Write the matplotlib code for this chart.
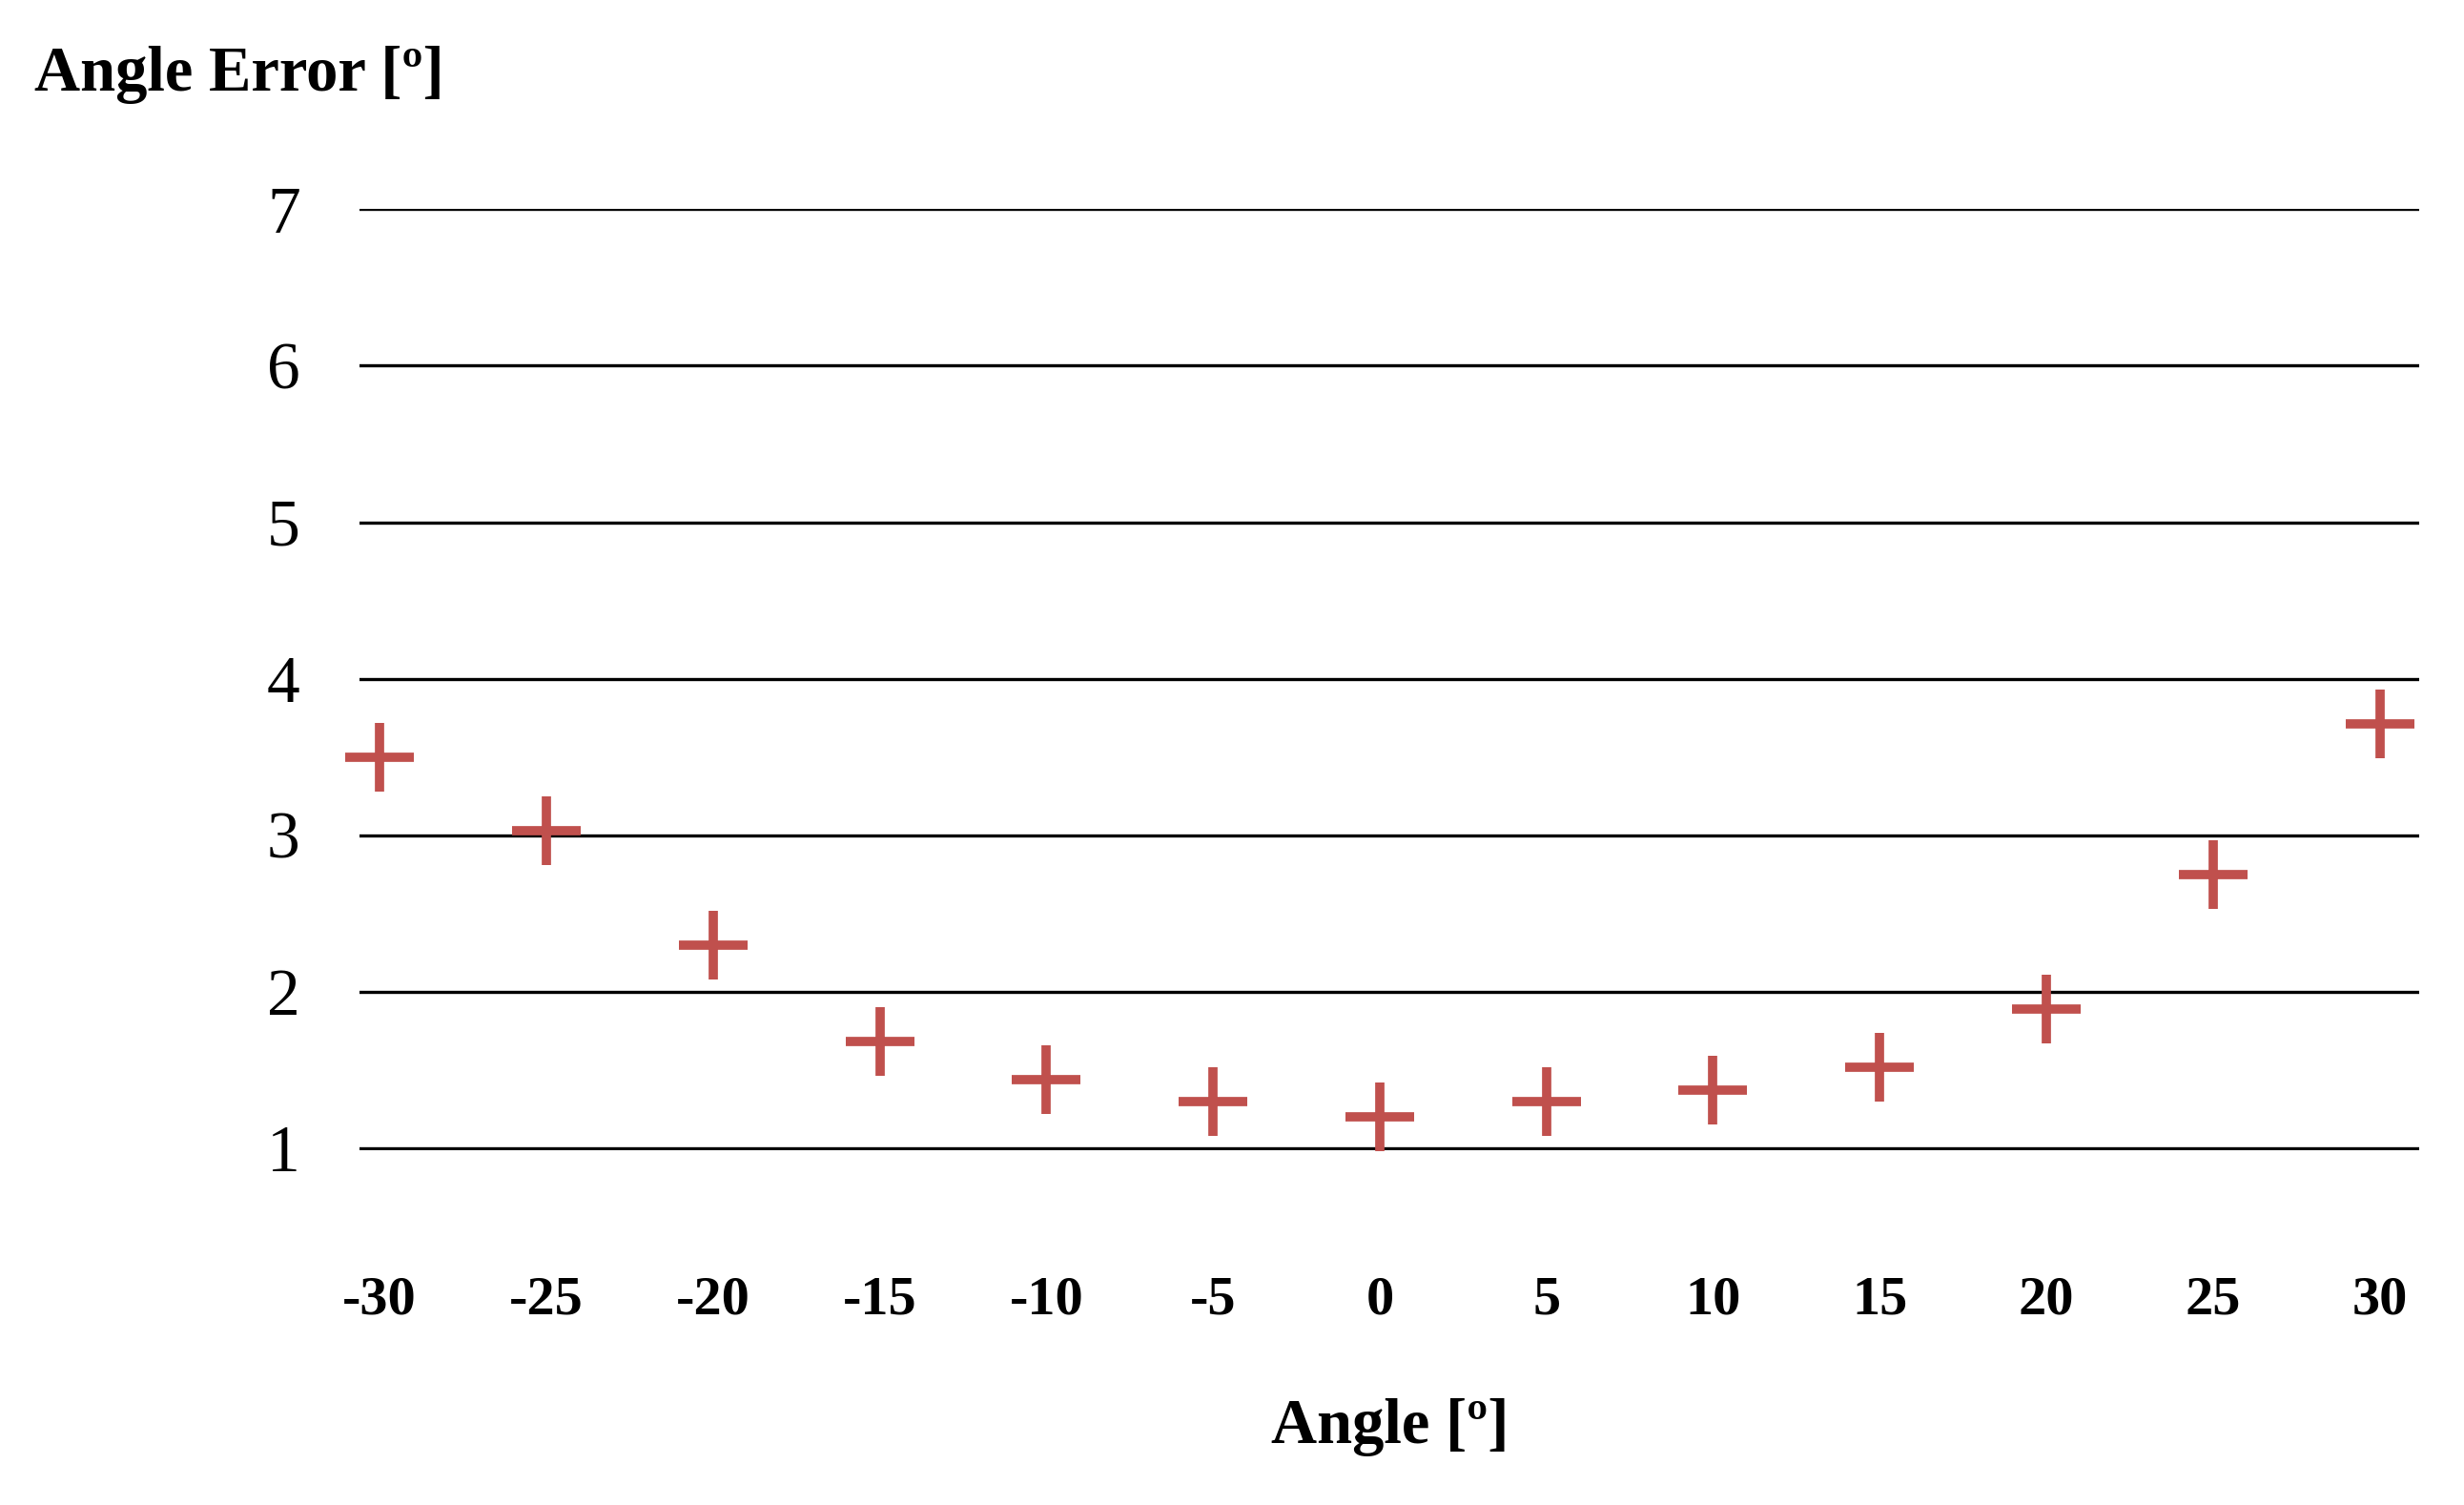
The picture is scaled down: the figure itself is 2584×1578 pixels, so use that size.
import matplotlib
matplotlib.use("Agg")
import matplotlib.pyplot as plt

angles = [-30, -25, -20, -15, -10, -5, 0, 5, 10, 15, 20, 25, 30]
errors = [3.5, 3.03, 2.3, 1.68, 1.44, 1.3, 1.2, 1.3, 1.37, 1.52, 1.89, 2.75, 3.71]
yticks = [1, 2, 3, 4, 5, 6, 7]

plt.rcParams['font.family'] = ['Liberation Serif', 'DejaVu Serif']
plt.rcParams['axes.unicode_minus'] = False

fig = plt.figure(figsize=(25.84, 15.78), dpi=100)
ax = fig.add_axes([0.146, 0.236, 0.836, 0.625])

ax.plot(angles, errors, linestyle='none', marker='+', markersize=52,
        markeredgewidth=7, color='#c0504d', clip_on=False, zorder=3)

ax.set_xlim(-30.6, 31.2)
ax.set_ylim(0.99, 7)
ax.set_yticks(yticks)
ax.set_xticks(angles)
ax.grid(axis='y', color='black', linewidth=2.4)
ax.set_axisbelow(True)
for s in ax.spines.values():
    s.set_visible(False)

ax.tick_params(axis='y', length=0, pad=45, labelsize=50)
ax.tick_params(axis='x', length=0, pad=95, labelsize=42)
for lab in ax.get_xticklabels():
    lab.set_fontweight('bold')

ax.set_xlabel('Angle [º]', fontsize=48, fontweight='bold', labelpad=55)
fig.text(0.014, 0.95, 'Angle Error [º]', fontsize=48, fontweight='bold', va='center')

fig.savefig('out.png', dpi=100, facecolor='white')
